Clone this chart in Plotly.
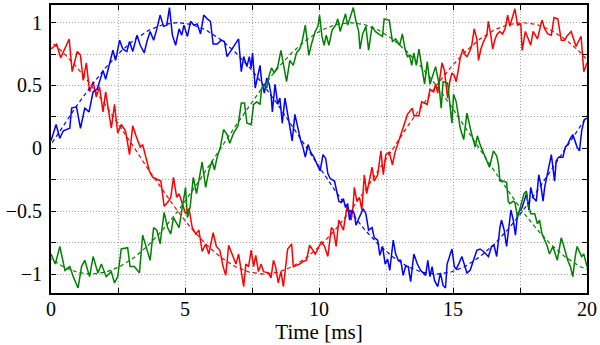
import plotly.graph_objects as go

# ---- noisy measured signals (time in ms, value) ----
blue_t = [0.00,0.19,0.33,0.46,0.70,0.77,0.95,1.10,1.26,1.42,1.57,1.72,1.81,1.94,2.04,2.19,2.31,2.41,2.56,2.68,2.83,2.93,3.05,3.21,3.33,3.48,3.58,3.70,3.83,3.95,4.07,4.20,4.32,4.42,4.53,4.65,4.78,4.88,4.96,5.09,5.21,5.33,5.46,5.58,5.70,5.83,5.95,6.05,6.20,6.35,6.47,6.57,6.69,6.88,7.00,7.10,7.19,7.31,7.40,7.47,7.52,7.62,7.72,7.80,7.86,7.96,8.05,8.14,8.21,8.26,8.36,8.46,8.54,8.63,8.73,8.83,8.91,9.00,9.10,9.22,9.32,9.40,9.49,9.59,9.69,9.81,9.94,10.04,10.15,10.25,10.33,10.42,10.58,10.74,10.83,10.91,10.99,11.07,11.14,11.23,11.32,11.38,11.48,11.57,11.65,11.75,11.85,11.98,12.06,12.19,12.27,12.37,12.47,12.56,12.64,12.77,12.86,12.96,13.05,13.14,13.23,13.33,13.42,13.54,13.67,13.79,13.98,14.06,14.14,14.22,14.31,14.43,14.53,14.63,14.72,14.78,14.96,15.05,15.12,15.21,15.33,15.52,15.64,15.89,16.01,16.14,16.32,16.44,16.53,16.63,16.69,16.75,16.81,16.91,17.00,17.16,17.25,17.33,17.41,17.58,17.74,17.83,17.90,17.99,18.11,18.20,18.27,18.36,18.42,18.60,18.67,18.79,18.85,18.94,19.10,19.19,19.28,19.38,19.47,19.63,19.72,19.80,19.90,20.00]
blue_v = [0.06,0.19,0.08,0.14,0.16,0.32,0.33,0.16,0.32,0.29,0.45,0.47,0.53,0.62,0.55,0.69,0.78,0.70,0.86,0.79,0.77,0.85,0.77,0.90,0.82,0.76,0.85,0.93,0.86,0.95,1.06,0.97,0.98,1.12,0.90,0.82,0.95,0.90,0.98,0.89,1.01,0.98,0.99,0.91,1.06,1.03,1.01,0.83,0.83,0.86,0.85,0.73,0.77,0.83,0.87,0.61,0.73,0.65,0.73,0.64,0.76,0.48,0.57,0.66,0.53,0.44,0.56,0.51,0.43,0.29,0.51,0.35,0.40,0.20,0.40,0.26,0.18,0.06,0.27,0.14,0.06,0.01,-0.07,0.03,-0.03,-0.07,-0.14,-0.18,-0.05,-0.08,-0.20,-0.24,-0.26,-0.42,-0.43,-0.40,-0.47,-0.44,-0.57,-0.49,-0.52,-0.61,-0.56,-0.52,-0.48,-0.52,-0.65,-0.63,-0.71,-0.73,-0.85,-0.78,-0.92,-0.88,-0.97,-0.73,-0.84,-0.89,-0.89,-1.01,-0.94,-0.94,-1.06,-0.84,-0.92,-0.97,-1.01,-0.89,-1.02,-0.94,-1.05,-1.10,-0.99,-1.09,-1.11,-0.92,-0.80,-0.94,-0.96,-0.92,-0.86,-0.99,-0.97,-0.81,-0.80,-0.82,-0.86,-0.78,-0.77,-0.86,-0.73,-0.63,-0.57,-0.65,-0.78,-0.49,-0.57,-0.69,-0.52,-0.47,-0.36,-0.49,-0.31,-0.39,-0.42,-0.21,-0.28,-0.42,-0.31,-0.14,-0.05,-0.26,-0.10,-0.07,-0.07,0.01,0.03,0.08,0.11,0.01,-0.02,0.14,0.23,0.24]

red_t = [0.00,0.21,0.36,0.68,0.79,0.98,1.10,1.20,1.32,1.44,1.57,1.69,1.81,1.94,2.04,2.25,2.37,2.49,2.62,2.78,2.93,3.05,3.17,3.33,3.42,3.51,3.67,3.79,3.91,4.10,4.22,4.35,4.47,4.57,4.69,4.78,4.90,5.02,5.15,5.27,5.40,5.52,5.64,5.77,5.89,6.05,6.17,6.30,6.42,6.52,6.63,6.78,6.90,7.00,7.10,7.19,7.27,7.37,7.47,7.56,7.64,7.74,7.84,7.93,8.11,8.21,8.30,8.38,8.48,8.58,8.67,8.75,8.83,8.98,9.04,9.16,9.28,9.40,9.53,9.65,9.78,9.86,9.96,10.09,10.21,10.33,10.46,10.54,10.64,10.74,10.91,11.04,11.20,11.26,11.32,11.41,11.51,11.60,11.69,11.78,11.98,12.06,12.19,12.31,12.40,12.49,12.62,12.74,12.84,12.93,13.01,13.11,13.30,13.48,13.54,13.73,13.83,14.04,14.14,14.28,14.35,14.43,14.51,14.59,14.68,14.75,14.80,14.88,14.96,15.05,15.12,15.21,15.27,15.37,15.46,15.52,15.62,15.70,15.79,15.89,15.95,16.04,16.14,16.26,16.32,16.41,16.48,16.57,16.65,16.75,16.85,16.94,17.04,17.12,17.31,17.41,17.53,17.58,17.70,17.90,17.99,18.15,18.32,18.42,18.54,18.67,18.77,18.91,19.04,19.16,19.28,19.41,19.59,19.68,19.78,19.88,20.00]
red_v = [0.79,0.83,0.72,0.87,0.61,0.77,0.74,0.54,0.68,0.45,0.53,0.41,0.49,0.29,0.45,0.16,0.35,0.12,0.19,0.14,-0.05,0.18,0.10,0.01,0.03,-0.05,-0.18,-0.23,-0.24,-0.26,-0.46,-0.43,-0.39,-0.23,-0.39,-0.36,-0.44,-0.52,-0.48,-0.63,-0.68,-0.65,-0.82,-0.76,-0.84,-0.67,-0.78,-0.81,-0.94,-1.01,-0.77,-0.86,-0.92,-0.84,-0.99,-1.10,-0.92,-0.94,-0.81,-0.94,-0.85,-0.98,-0.92,-0.98,-0.99,-1.03,-0.89,-0.94,-1.07,-0.98,-1.10,-0.92,-0.80,-0.76,-0.94,-0.93,-0.92,-0.90,-0.89,-0.77,-0.81,-0.84,-0.80,-0.74,-0.78,-0.86,-0.63,-0.65,-0.78,-0.57,-0.65,-0.47,-0.57,-0.49,-0.31,-0.42,-0.39,-0.49,-0.21,-0.36,-0.15,-0.26,-0.21,-0.02,-0.21,-0.05,-0.03,-0.13,-0.03,0.03,0.08,0.16,0.27,0.32,0.26,0.26,0.37,0.35,0.47,0.45,0.51,0.44,0.56,0.68,0.62,0.49,0.40,0.53,0.60,0.58,0.53,0.64,0.72,0.79,0.74,0.73,0.77,0.82,0.95,0.87,0.70,0.79,0.85,0.90,1.01,0.90,0.79,0.87,0.91,0.93,0.91,0.95,1.06,0.97,1.11,0.98,0.99,0.78,0.93,0.82,0.93,0.87,1.02,0.95,0.91,0.90,1.04,1.03,0.86,0.86,0.90,0.93,0.81,0.85,0.89,0.61,0.68]

green_t = [0.00,0.16,0.33,0.52,0.70,0.83,1.01,1.14,1.26,1.44,1.57,1.75,1.88,2.06,2.25,2.37,2.49,2.62,2.86,2.95,3.11,3.30,3.42,3.54,3.70,3.83,3.95,4.07,4.22,4.35,4.47,4.57,4.78,4.90,5.02,5.09,5.19,5.31,5.43,5.64,5.77,5.89,6.01,6.10,6.20,6.32,6.44,6.57,6.67,6.81,6.98,7.10,7.22,7.31,7.47,7.56,7.68,7.80,7.86,7.96,8.05,8.14,8.23,8.33,8.46,8.58,8.67,8.79,8.91,9.04,9.16,9.28,9.37,9.49,9.62,9.72,9.86,9.96,10.02,10.11,10.19,10.27,10.37,10.49,10.62,10.70,10.79,10.91,10.99,11.07,11.20,11.28,11.38,11.48,11.53,11.63,11.75,11.85,11.98,12.10,12.22,12.37,12.43,12.62,12.74,12.86,13.01,13.11,13.21,13.30,13.38,13.46,13.54,13.63,13.73,13.85,13.94,14.04,14.14,14.35,14.47,14.56,14.63,14.80,14.88,14.96,15.02,15.12,15.27,15.40,15.52,15.62,15.70,15.83,15.91,16.01,16.11,16.20,16.28,16.36,16.51,16.63,16.70,16.75,16.88,17.00,17.06,17.12,17.25,17.31,17.41,17.53,17.65,17.74,17.80,17.90,18.05,18.15,18.23,18.32,18.52,18.60,18.73,18.89,19.04,19.14,19.28,19.38,19.47,19.56,19.63,19.80,19.88,20.00]
green_v = [-0.84,-0.92,-0.78,-0.97,-0.94,-1.02,-1.11,-0.94,-0.89,-1.02,-0.86,-0.99,-0.92,-1.02,-0.98,-1.07,-1.02,-0.80,-0.79,-0.94,-0.94,-0.99,-0.69,-0.78,-0.89,-0.63,-0.65,-0.76,-0.51,-0.63,-0.68,-0.55,-0.63,-0.47,-0.31,-0.55,-0.47,-0.23,-0.36,-0.11,-0.31,-0.18,-0.10,-0.17,-0.07,0.01,0.15,0.11,0.04,0.12,0.18,0.36,0.36,0.20,0.19,0.35,0.37,0.35,0.48,0.51,0.48,0.58,0.64,0.60,0.65,0.78,0.66,0.53,0.70,0.66,0.76,0.79,0.85,0.98,0.74,0.83,0.93,0.97,1.06,0.89,0.82,0.90,0.82,0.94,0.98,1.03,0.93,1.01,1.07,0.98,1.06,1.12,1.01,0.93,0.79,0.91,0.97,0.78,0.97,0.93,0.91,0.89,1.03,1.02,0.85,0.87,0.82,0.91,0.79,0.73,0.74,0.66,0.76,0.66,0.79,0.64,0.51,0.69,0.51,0.65,0.52,0.32,0.53,0.52,0.37,0.20,0.43,0.37,0.16,0.07,0.28,0.18,0.11,0.01,0.10,0.03,-0.02,-0.07,-0.10,-0.15,-0.02,-0.06,-0.13,-0.26,-0.26,-0.27,-0.42,-0.44,-0.42,-0.43,-0.55,-0.45,-0.36,-0.34,-0.44,-0.52,-0.52,-0.60,-0.57,-0.68,-0.78,-0.84,-0.78,-0.89,-0.71,-0.78,-0.89,-0.94,-1.02,-0.86,-0.78,-0.86,-0.84,-0.94]

# ---- reference (noise-free) signals ----
ref_t = [-0.10,0.44,0.97,1.51,2.04,2.58,3.12,3.65,4.19,4.73,5.26,5.80,6.33,6.87,7.41,7.94,8.48,9.01,9.55,10.09,10.62,11.16,11.69,12.23,12.77,13.30,13.84,14.38,14.91,15.45,15.98,16.52,17.06,17.59,18.13,18.66,19.20,19.74,20.27]
ref_blue = [0.0,0.1736,0.342,0.5,0.6428,0.766,0.866,0.9397,0.9848,1.0,0.9848,0.9397,0.866,0.766,0.6428,0.5,0.342,0.1736,0.0,-0.1736,-0.342,-0.5,-0.6428,-0.766,-0.866,-0.9397,-0.9848,-1.0,-0.9848,-0.9397,-0.866,-0.766,-0.6428,-0.5,-0.342,-0.1736,0.0,0.1736,0.342]
ref_red = [0.866,0.766,0.6428,0.5,0.342,0.1736,0.0,-0.1736,-0.342,-0.5,-0.6428,-0.766,-0.866,-0.9397,-0.9848,-1.0,-0.9848,-0.9397,-0.866,-0.766,-0.6428,-0.5,-0.342,-0.1736,0.0,0.1736,0.342,0.5,0.6428,0.766,0.866,0.9397,0.9848,1.0,0.9848,0.9397,0.866,0.766,0.6428]
ref_green = [-0.866,-0.9397,-0.9848,-1.0,-0.9848,-0.9397,-0.866,-0.766,-0.6428,-0.5,-0.342,-0.1736,0.0,0.1736,0.342,0.5,0.6428,0.766,0.866,0.9397,0.9848,1.0,0.9848,0.9397,0.866,0.766,0.6428,0.5,0.342,0.1736,0.0,-0.1736,-0.342,-0.5,-0.6428,-0.766,-0.866,-0.9397,-0.9848]

x_tickvals = [0, 2.5, 5, 7.5, 10, 12.5, 15, 17.5, 20]
x_ticktext = ["0", "", "5", "", "10", "", "15", "", "20"]
y_tickvals = [-1, -0.75, -0.5, -0.25, 0, 0.25, 0.5, 0.75, 1]
y_ticktext = ["\u22121", "", "\u22120.5", "", "0", "", "0.5", "", "1"]

RED = "#ff0000"
BLUE = "#0000ff"
GREEN = "#008000"

fig = go.Figure()
for t, v, c in [(red_t, red_v, RED), (blue_t, blue_v, BLUE), (green_t, green_v, GREEN)]:
    fig.add_trace(go.Scatter(x=t, y=v, mode="lines", line=dict(color=c, width=1.5),
                             showlegend=False, hoverinfo="skip"))
for v, c in [(ref_red, RED), (ref_blue, BLUE), (ref_green, GREEN)]:
    fig.add_trace(go.Scatter(x=ref_t, y=v, mode="lines",
                             line=dict(color=c, width=1.2, dash="4px,3px"),
                             showlegend=False, hoverinfo="skip"))

FONT = "Liberation Serif"
axis_common = dict(
    showline=True, linecolor="black", linewidth=2, mirror="allticks",
    ticks="inside", ticklen=5, tickwidth=1, tickcolor="black",
    showgrid=True, gridcolor="#a0a0a0", gridwidth=1, griddash="1px,2px",
    zeroline=False, tickfont=dict(family=FONT, size=20, color="black"),
)
fig.update_xaxes(range=[0, 20], tickmode="array", tickvals=x_tickvals, ticktext=x_ticktext,
                 title=dict(text="Time [ms]", font=dict(family=FONT, size=21, color="black"), standoff=0),
                 ticklabelstandoff=-3, ticklabeloverflow="allow", **axis_common)
fig.update_yaxes(range=[-1.15, 1.14], tickmode="array", tickvals=y_tickvals, ticktext=y_ticktext,
                 ticklabelstandoff=3, **axis_common)
fig.update_layout(width=600, height=345, margin=dict(l=51, r=9, t=3, b=52),
                  paper_bgcolor="white", plot_bgcolor="white")
fig.write_html("out.html")
